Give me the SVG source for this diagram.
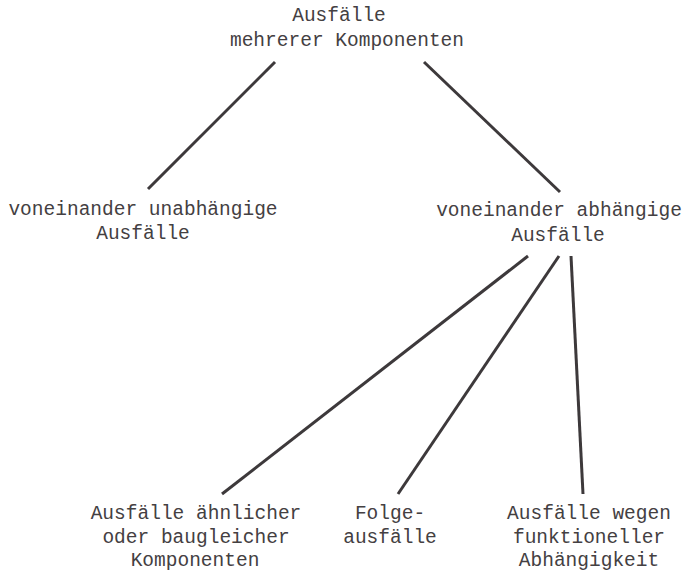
<svg xmlns="http://www.w3.org/2000/svg" width="690" height="573" viewBox="0 0 690 573">
<style>
text{font-family:"Liberation Mono","DejaVu Sans Mono",monospace;font-size:19.5px;fill:#444042;text-anchor:middle}
.c line{stroke:#3d393b;stroke-width:3;stroke-linecap:butt}
</style>
<rect width="690" height="573" fill="#ffffff"/>
<g class="c" id="connectors">
<line x1="275" y1="62" x2="148" y2="189"/>
<line x1="424" y1="62" x2="560" y2="192"/>
<line x1="528" y1="256" x2="222" y2="494"/>
<line x1="559" y1="256" x2="398" y2="494"/>
<line x1="571" y1="256" x2="583" y2="494"/>
</g>
<g id="root">
<text x="339" y="21">Ausfälle</text>
<text x="347" y="46">mehrerer Komponenten</text>
</g>
<g id="independent">
<text x="143" y="215">voneinander unabhängige</text>
<text x="143" y="239">Ausfälle</text>
</g>
<g id="dependent">
<text x="559" y="216">voneinander abhängige</text>
<text x="558" y="241">Ausfälle</text>
</g>
<g id="similar">
<text x="196" y="519">Ausfälle ähnlicher</text>
<text x="196" y="543">oder baugleicher</text>
<text x="195" y="566">Komponenten</text>
</g>
<g id="consequential">
<text x="390" y="519">Folge-</text>
<text x="390" y="543">ausfälle</text>
</g>
<g id="functional">
<text x="589" y="519">Ausfälle wegen</text>
<text x="589" y="543">funktioneller</text>
<text x="589" y="566">Abhängigkeit</text>
</g>
</svg>
